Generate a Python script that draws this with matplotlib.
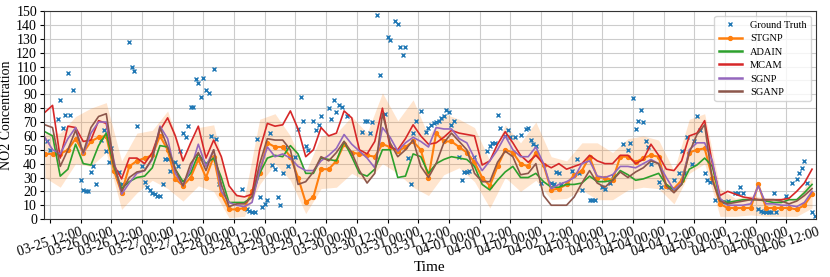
import numpy as np
import matplotlib
matplotlib.use('Agg')
import matplotlib.pyplot as plt
import matplotlib.dates as mdates

plt.rcParams['font.family'] = ['Liberation Serif', 'DejaVu Serif']

START = np.datetime64('2021-03-25T00:00')

# model outputs: hours after 03-25 00:00, one value every 3 h (10 .. 310)
hours = np.arange(10, 311, 3)

stgnp = [
    47, 47, 47, 50, 58, 48, 56, 59, 60, 35, 19, 38, 42,
    44, 46, 60, 50, 29, 24, 30, 43, 30, 45, 18, 7, 7,
    8, 20, 33, 55, 52, 52, 45, 30, 12, 16, 36, 36,
    42, 54, 48, 47, 46, 45, 54, 52, 49, 52, 56, 50, 30,
    62, 56, 56, 52, 48, 41, 30, 24, 38, 50, 48, 40, 38,
    48, 39, 21, 22, 25, 32, 35, 45, 30, 30, 28, 45, 45,
    41, 44, 46, 45, 24, 22, 28, 48, 50, 51, 30, 11,
    8, 8, 8, 8, 25, 8, 8, 8, 8, 7, 10, 18,
]
adain = [
    63, 60, 31, 36, 54, 40, 39, 53, 62, 38, 22, 27, 30,
    31, 37, 53, 52, 36, 27, 33, 47, 40, 44, 30, 12, 12,
    12, 16, 33, 44, 46, 45, 53, 47, 33, 33, 44, 43,
    42, 56, 45, 33, 31, 36, 50, 50, 30, 31, 47, 45, 33,
    40, 43, 45, 44, 43, 38, 25, 21, 28, 34, 38, 30, 30,
    33, 27, 23, 23, 25, 25, 26, 31, 27, 27, 28, 35, 32,
    28, 29, 31, 33, 25, 21, 25, 36, 39, 44, 38, 14,
    12, 13, 14, 14, 14, 13, 12, 12, 14, 14, 19, 25,
]
mcam = [
    77, 82, 44, 67, 66, 56, 57, 71, 69, 39, 29, 44, 44,
    40, 48, 64, 73, 60, 42, 55, 67, 44, 57, 45, 24, 17,
    16, 18, 50, 69, 67, 68, 78, 65, 45, 50, 66, 60,
    62, 78, 73, 50, 47, 56, 80, 52, 50, 58, 68, 60, 54,
    55, 59, 64, 62, 61, 60, 39, 42, 54, 63, 55, 46, 41,
    46, 40, 37, 40, 36, 38, 40, 46, 42, 40, 40, 46, 46,
    40, 43, 54, 46, 36, 35, 42, 60, 62, 71, 40, 17,
    20, 18, 16, 15, 14, 14, 14, 14, 15, 20, 26, 36,
]
sgnp = [
    59, 50, 47, 58, 66, 47, 62, 70, 70, 42, 18, 26, 33,
    35, 43, 67, 58, 33, 24, 36, 54, 38, 50, 20, 12, 10,
    9, 12, 35, 52, 45, 47, 44, 38, 35, 35, 42, 46,
    51, 61, 54, 49, 44, 37, 66, 59, 49, 55, 59, 56, 52,
    66, 65, 65, 58, 55, 44, 35, 42, 50, 60, 50, 45, 45,
    52, 40, 22, 25, 27, 30, 40, 42, 31, 30, 32, 38, 38,
    37, 40, 43, 40, 30, 21, 26, 50, 55, 55, 42, 15,
    10, 10, 10, 11, 24, 11, 11, 10, 10, 9, 12, 20,
]
sganp = [
    68, 66, 38, 50, 64, 48, 66, 74, 76, 40, 20, 30, 34,
    35, 44, 66, 52, 36, 24, 40, 48, 35, 50, 25, 9, 11,
    11, 16, 40, 58, 57, 57, 50, 25, 27, 34, 45, 42,
    48, 56, 48, 35, 26, 33, 76, 55, 45, 50, 57, 38, 30,
    40, 55, 62, 56, 50, 33, 27, 27, 41, 49, 45, 32, 33,
    40, 17, 10, 10, 10, 16, 26, 35, 26, 23, 28, 34, 30,
    34, 37, 42, 40, 24, 19, 25, 48, 61, 68, 28, 13,
    11, 12, 13, 14, 14, 14, 14, 13, 11, 13, 17, 22,
]

# STGNP uncertainty band, every 6 h (10 .. 310)
band_hours = np.arange(10, 311, 6)
band_lo = [30, 23, 40, 38, 48, 7, 19, 28, 22, 13, 24, 20, 1,
           2, 25, 40, 28, 4, 22, 23, 33, 27, 40, 33, 23, 17,
           32, 37, 27, 8, 30, 20, 28, 14, 15, 21, 14, 14, 21,
           23, 22, 11, 33, 40, 2, 2, 3, 2, 2, 2, 8]
band_hi = [62, 62, 74, 80, 84, 42, 62, 64, 78, 45, 66, 68, 22,
           15, 72, 76, 60, 34, 60, 62, 74, 62, 91, 71, 86, 60,
           76, 72, 66, 42, 68, 55, 70, 45, 42, 55, 55, 48, 58,
           60, 57, 35, 72, 76, 22, 15, 17, 15, 15, 15, 30]

# ground truth (hour, value), station has gaps
gt_hours = [11, 12, 15, 16, 17, 18, 19, 20, 21, 24, 25, 26, 27, 28, 29, 30,
            32, 33, 34, 35, 36, 39, 40, 43, 44, 45, 46,
            48, 49, 50, 51, 52, 53, 54, 55, 56, 57, 58, 59, 61, 62, 63, 64,
            65, 66, 67, 68, 69, 70, 71, 72, 73, 74, 75, 76, 77, 78,
            87, 89, 90, 91, 92, 93, 94, 95, 96, 97, 98, 99, 100, 101, 102,
            103, 104, 105, 108, 109, 110, 111, 112, 113, 115, 116, 117, 118,
            121, 122, 123,
            124, 125, 126, 128, 134, 135, 136, 137, 138, 140, 141, 143, 144,
            145, 147, 148, 149, 150, 151, 152, 153, 154, 155, 157, 159, 160,
            161, 162, 163, 164, 165, 166, 167, 168, 169, 170, 172, 173, 174,
            175, 176, 178, 183, 184, 185, 186, 187, 188, 190, 191, 192, 194,
            196, 198, 199,
            200, 201, 202, 204, 208, 209, 210, 211, 212, 216, 218, 219, 220,
            223, 224, 225, 228, 229, 231, 232, 236,
            238, 239, 240, 241, 242, 243, 244, 245, 246, 247, 250, 251, 254,
            256, 258, 259, 260, 261, 263, 264, 265, 266, 268, 269, 270, 272,
            275, 277,
            280, 281, 282, 283, 289, 290, 291, 292, 293, 294, 295, 296, 300,
            302, 304, 305, 306, 307, 308, 310, 311]
gt_vals = [56, 50, 72, 86, 66, 75, 105, 75, 93, 28, 21, 20, 20, 34, 38, 25,
           57, 64, 49, 41, 51, 34, 25, 128, 110, 107, 67,
           38, 27, 23, 21, 19, 18, 17, 17, 25, 43, 43, 35, 41, 38, 49, 62,
           59, 67, 81, 81, 101, 98, 88, 102, 93, 91, 60, 108, 58, 25,
           22, 7, 6, 5, 5, 58, 16, 9, 11, 14, 62, 39, 36, 16, 10,
           33, 52, 38, 45, 65, 88, 71, 53, 50, 71, 64, 68, 74,
           80, 72, 86,
           77, 82, 81, 74, 63, 71, 71, 62, 70, 147, 104, 76, 131,
           129, 143, 141, 124, 118, 124, 44, 25, 62, 71, 78, 63, 66,
           68, 69, 70, 71, 73, 74, 79, 77, 68, 71, 45, 28, 34,
           34, 35, 45, 49, 53, 55, 55, 75, 66, 60, 64, 59, 59,
           61, 65, 66,
           57, 54, 53, 26, 26, 25, 34, 33, 25, 35, 43, 33, 21,
           14, 14, 14, 23, 22, 26, 31, 54,
           50, 55, 87, 65, 71, 79, 70, 56, 52, 40, 27, 23, 23,
           28, 33, 49, 33, 59, 40, 56, 74, 64, 33, 28, 27, 14,
           12, 13,
           19, 19, 23, 19, 7, 6, 5, 5, 5, 5, 19, 5, 17,
           26, 29, 33, 37, 42, 26, 5, 2]


def to_time(h):
    return START + np.asarray(h).astype('timedelta64[h]')


fig, ax = plt.subplots(figsize=(8.3, 2.77), dpi=100)
fig.subplots_adjust(left=0.053, right=0.983, top=0.96, bottom=0.209)

t = to_time(hours)
ax.fill_between(to_time(band_hours), band_lo, band_hi, color='#ff7f0e',
                alpha=0.2, lw=0)
ax.plot(to_time(gt_hours), gt_vals, 'x', color='#1f77b4', ms=3.5, mew=1.0,
        label='Ground Truth')
ax.plot(t, stgnp, '-o', color='#ff7f0e', lw=1.5, ms=2.8, label='STGNP')
ax.plot(t, adain, color='#2ca02c', lw=1.2, label='ADAIN')
ax.plot(t, mcam, color='#d62728', lw=1.2, label='MCAM')
ax.plot(t, sgnp, color='#9467bd', lw=1.2, label='SGNP')
ax.plot(t, sganp, color='#8c564b', lw=1.2, label='SGANP')

# view runs from about 03-25 09:40 to 04-06 23:30
ax.set_xlim(START + np.timedelta64(579, 'm'), START + np.timedelta64(18690, 'm'))
ax.set_ylim(0, 150)
ax.set_yticks(np.arange(0, 151, 10))

ax.xaxis.set_major_locator(mdates.HourLocator(byhour=[0, 12]))
ax.xaxis.set_major_formatter(mdates.DateFormatter('%m-%d %H:%M'))
plt.setp(ax.get_xticklabels(), rotation=18, ha='center')
ax.tick_params(labelsize=10, length=3, pad=2)

ax.grid(True, color='#cccccc', linewidth=0.8)
ax.set_axisbelow(True)
for sp in ax.spines.values():
    sp.set_color('#333333')

ax.set_xlabel('Time', fontsize=11, labelpad=1)
ax.set_ylabel('NO2 Concentration', fontsize=10, labelpad=2)

leg = ax.legend(loc='upper right', fontsize=7.5, handlelength=2.2,
                borderpad=0.4, labelspacing=0.4, framealpha=0.8)
for line in leg.get_lines()[1:]:
    line.set_linewidth(1.8)

fig.savefig('out.png', dpi=100)
